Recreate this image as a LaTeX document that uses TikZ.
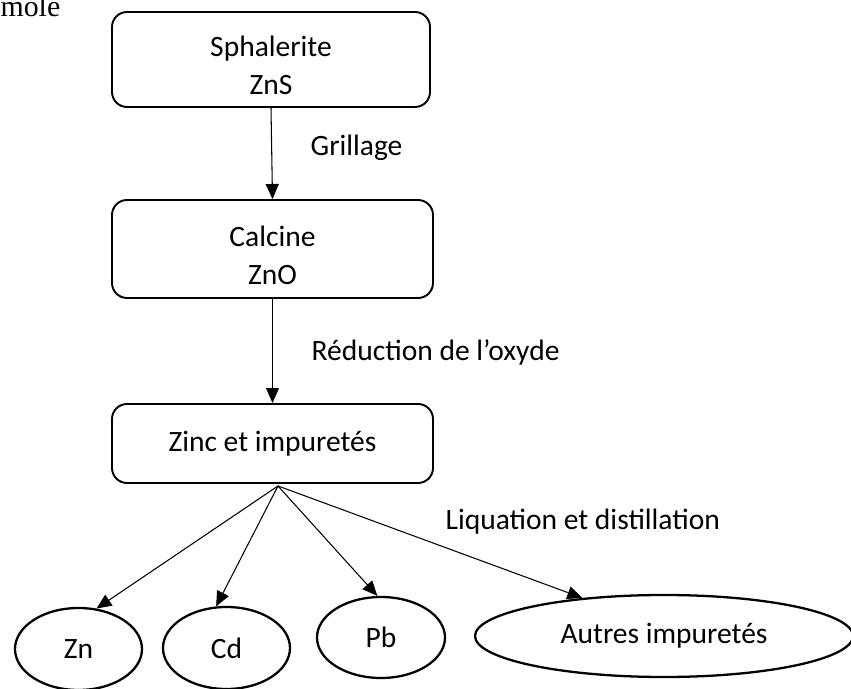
\documentclass[tikz,border=0pt]{standalone}
\usepackage{fontspec}
\setmainfont{Carlito}
\newfontfamily\timesfont{Liberation Serif}
\usetikzlibrary{
		arrows.meta,
		calc,
		shapes.geometric
	}
\tikzset{
		>={Triangle[length=3mm,width=2.6mm]},
		stage/.style={draw,rounded corners=0.3cm,line width=1.1pt,align=center,
			font=\fontsize{16.8}{21.5}\selectfont},
		twoline/.style={stage,text height=40pt},
		product/.style={draw,ellipse,line width=1.3pt,inner sep=0pt,
			font=\fontsize{16.8}{19}\selectfont},
		oplabel/.style={anchor=base west,inner sep=0pt,font=\fontsize{16.8}{19}\selectfont},
		flow/.style={->,line width=0.6pt}
	}

\begin{document}
\begin{tikzpicture}[thick]
          \useasboundingbox (0,0) rectangle (17.02,13.76);
          \clip (0,0) rectangle (17.02,13.76);

          % end of a word running off the top of the page
          \node[anchor=base east,inner sep=0pt,font=\timesfont\fontsize{17}{20}\selectfont] (mole) at (1.22,13.42) {mole};

          \node[twoline,minimum width=6.36cm,minimum height=1.9cm] (sphal) at (5.42,12.57) {Sphalerite\\ZnS};
          \node[twoline,minimum width=6.42cm,minimum height=1.96cm] (calcine) at (5.45,8.78) {Calcine\\ZnO};
          \node[stage,minimum width=6.42cm,minimum height=1.58cm] (zinc) at (5.45,4.89) {Zinc et impuretés};

          \node[product,minimum width=2.54cm,minimum height=1.64cm] (zn) at (1.57,0.78) {Zn};
          \node[product,minimum width=2.54cm,minimum height=1.64cm] (cd) at (4.53,0.80) {Cd};
          \node[product,minimum width=2.56cm,minimum height=1.62cm] (pb) at (7.62,1.01) {Pb};
          \node[product,minimum width=7.56cm,minimum height=1.64cm] (autres) at (13.28,1.04) {Autres impuretés};

          \node[oplabel] (grill) at (6.2,10.65) {Grillage};
          \node[oplabel] (reduc) at (6.22,6.55) {Réduction de l’oxyde};
          \node[oplabel] (liqu) at (8.9,3.16) {Liquation et distillation};

          \draw[flow] (sphal.south) -- (calcine.north);
          \draw[flow] (calcine.south) -- (zinc.north);

          % all four products leave from one point under the box
          \coordinate (fan) at ($(zinc.south)+(0.11,-0.04)$);
          \draw[flow] (fan) -- (zn.66);
          \draw[flow] (fan) -- (cd.104);
          \draw[flow] (fan) -- (pb.95);
          \draw[flow] (fan) -- (autres.155);

          \end{tikzpicture}
\end{document}
